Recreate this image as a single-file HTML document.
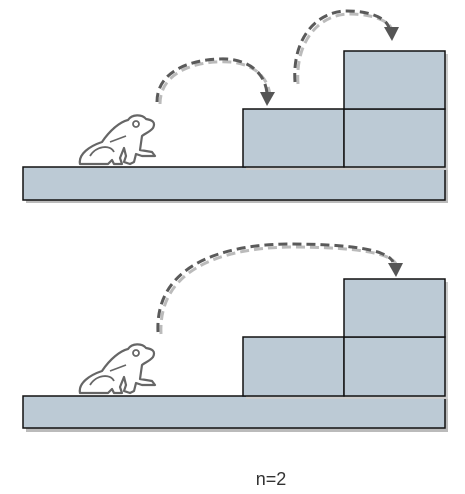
<!DOCTYPE html>
<html><head><meta charset="utf-8"><style>
html,body{margin:0;padding:0;background:#fff;width:465px;height:494px;overflow:hidden}
svg{display:block}
</style></head><body>
<svg width="465" height="494" viewBox="0 0 465 494">
<defs>
<g id="frog">
<path d="M0,48 C-2,38 10,30 22,26 C30,14 40,6 48,4 C52,-2 62,-2 66,3 C72,4 76,6 73,12 C70,16 64,18 62,20 L60,34 L72,36 L75,40 L62,40 L56,38 L54,46 L50,48 L44,46 L46,40 L44,32 L40,42 L42,48 L34,48 L32,44 L28,48 Z" fill="#fff" stroke="#666" stroke-width="2.2" stroke-linejoin="round"/>
<circle cx="56" cy="8" r="3" fill="none" stroke="#666" stroke-width="1.8"/>
<path d="M10,40 C16,30 30,28 34,36" fill="none" stroke="#666" stroke-width="1.8"/>
<path d="M30,26 L46,20" fill="none" stroke="#666" stroke-width="1.6"/>
</g>
</defs>
<g>
<rect x="26" y="170" width="422" height="33" fill="#bbb"/>
<rect x="23" y="167" width="422" height="33" fill="#bccad5" stroke="#111" stroke-width="1.5"/>
<rect x="246" y="112" width="202" height="58" fill="#ccc"/>
<rect x="347" y="54" width="101" height="58" fill="#ccc"/>
<rect x="243" y="109" width="101" height="58" fill="#bccad5" stroke="#111" stroke-width="1.5"/>
<rect x="344" y="109" width="101" height="58" fill="#bccad5" stroke="#111" stroke-width="1.5"/>
<rect x="344" y="51" width="101" height="58" fill="#bccad5" stroke="#111" stroke-width="1.5"/>
<use href="#frog" x="80" y="116"/>
<g fill="none" stroke-width="3" stroke-dasharray="9,5">
<path d="M160,104 C160,70 200,60 230,62 C255,64 268,78 270,95" stroke="#bbb"/>
<path d="M157,102 C157,68 197,58 227,59 C252,61 265,75 267,93" stroke="#5a5a5a"/>
<path d="M298,84 C295,40 320,14 350,14 C375,14 390,22 392,30" stroke="#bbb"/>
<path d="M295,82 C292,38 317,11 347,11 C372,11 387,19 389,28" stroke="#5a5a5a"/>
</g>
<polygon points="260,92 275,92 267,106" fill="#555"/>
<polygon points="384,27 399,27 392,41" fill="#555"/>
</g>
<g>
<rect x="26" y="399" width="422" height="33" fill="#bbb"/>
<rect x="23" y="396" width="422" height="32" fill="#bccad5" stroke="#111" stroke-width="1.5"/>
<rect x="246" y="340" width="202" height="59" fill="#ccc"/>
<rect x="347" y="282" width="101" height="58" fill="#ccc"/>
<rect x="243" y="337" width="101" height="59" fill="#bccad5" stroke="#111" stroke-width="1.5"/>
<rect x="344" y="337" width="101" height="59" fill="#bccad5" stroke="#111" stroke-width="1.5"/>
<rect x="344" y="279" width="101" height="58" fill="#bccad5" stroke="#111" stroke-width="1.5"/>
<use href="#frog" x="80" y="345"/>
<g fill="none" stroke-width="3" stroke-dasharray="9,5">
<path d="M161,334 C158,270 220,248 290,247 C350,247 390,252 396,264" stroke="#bbb"/>
<path d="M158,332 C155,268 217,245 287,244 C347,244 387,249 393,262" stroke="#5a5a5a"/>
</g>
<polygon points="388,263 403,263 396,277" fill="#555"/>
</g>
<text x="271" y="485" font-family="Liberation Sans, sans-serif" font-size="18" fill="#333" text-anchor="middle">n=2</text>
</svg>
</body></html>
